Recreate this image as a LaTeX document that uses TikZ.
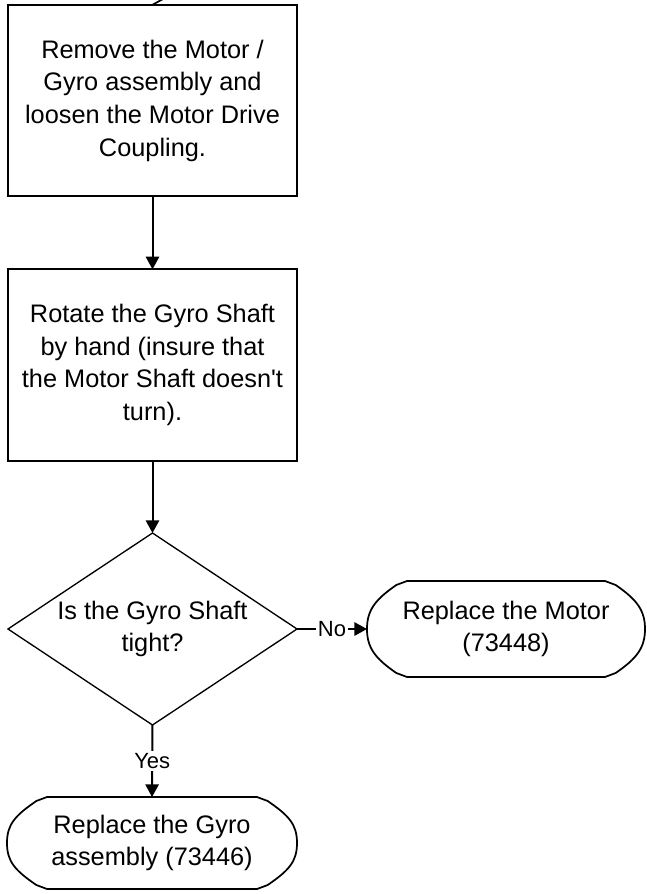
\documentclass[tikz,border=0pt]{standalone}
\usepackage{fontspec}
\setmainfont{Liberation Sans}
\usetikzlibrary{arrows.meta,shapes.geometric,positioning}

% rounded end outline drawn round a named node
\newcommand{\capoutline}[1]{%
  \draw[capline] ([xshift=30pt]#1.north west) -- ([xshift=-30pt]#1.north east)
    -- ([xshift=-22pt,yshift=-3pt]#1.north east)
    .. controls ([xshift=-6pt,yshift=-14pt]#1.north east) and ([yshift=14pt]#1.east) .. (#1.east)
    .. controls ([yshift=-14pt]#1.east) and ([xshift=-6pt,yshift=14pt]#1.south east) .. ([xshift=-22pt,yshift=3pt]#1.south east)
    -- ([xshift=-30pt]#1.south east) -- ([xshift=30pt]#1.south west)
    -- ([xshift=22pt,yshift=3pt]#1.south west)
    .. controls ([xshift=6pt,yshift=14pt]#1.south west) and ([yshift=-14pt]#1.west) .. (#1.west)
    .. controls ([yshift=14pt]#1.west) and ([xshift=6pt,yshift=-14pt]#1.north west) .. ([xshift=22pt,yshift=-3pt]#1.north west)
    -- cycle;}

\begin{document}
\begin{tikzpicture}[x=0.75pt,y=-0.75pt,>={Triangle[length=9.5pt,width=10pt]},
    every node/.style={font=\fontsize{19}{24.5}\selectfont,align=center,inner sep=0pt,outer sep=0pt},
    stepbox/.style={draw,line width=1.7pt,minimum width=216.75pt,minimum height=143.5pt},
    askbox/.style={draw,diamond,line width=1pt,shape aspect=1.5,minimum width=216.75pt,minimum height=144pt},
    endbox/.style={minimum height=#1},
    capline/.style={line width=1.3pt,line join=round},
    flow/.style={line width=1.5pt,->},
    lbl/.style={fill=white,inner sep=1.5pt,font=\fontsize{16.5}{18}\selectfont}]
    \useasboundingbox (0,0) rectangle (647,894);

    \node[stepbox] (remove) at (152.5,100.5)
        {Remove the Motor /\\Gyro assembly and\\loosen the Motor Drive\\Coupling.};
    \node[stepbox] (rotate) at (152.5,365)
        {Rotate the Gyro Shaft\\by hand (insure that\\the Motor Shaft doesn\textquotesingle t\\turn).};
    \node[askbox] (tight) at (152.5,629) {Is the Gyro Shaft\\tight?};
    \node[endbox=72pt,minimum width=208.5pt] (motor) at (506,629)
        {Replace the Motor\\(73448)};
    \node[endbox=69pt,minimum width=217.5pt] (gyro) at (152,843)
        {Replace the Gyro\\assembly (73446)};
    \capoutline{motor}
    \capoutline{gyro}

    \coordinate (feed) at (163,-1);
    \draw[capline] (remove.north) -- (feed);

    \draw[flow] (remove) -- (rotate);
    \draw[flow] (rotate) -- (tight);
    \draw[flow] (tight.east) -- node[lbl] {No} (motor.west);
    \draw[flow] (tight.south) -- node[lbl] {Yes} (gyro.north);
\end{tikzpicture}
\end{document}
